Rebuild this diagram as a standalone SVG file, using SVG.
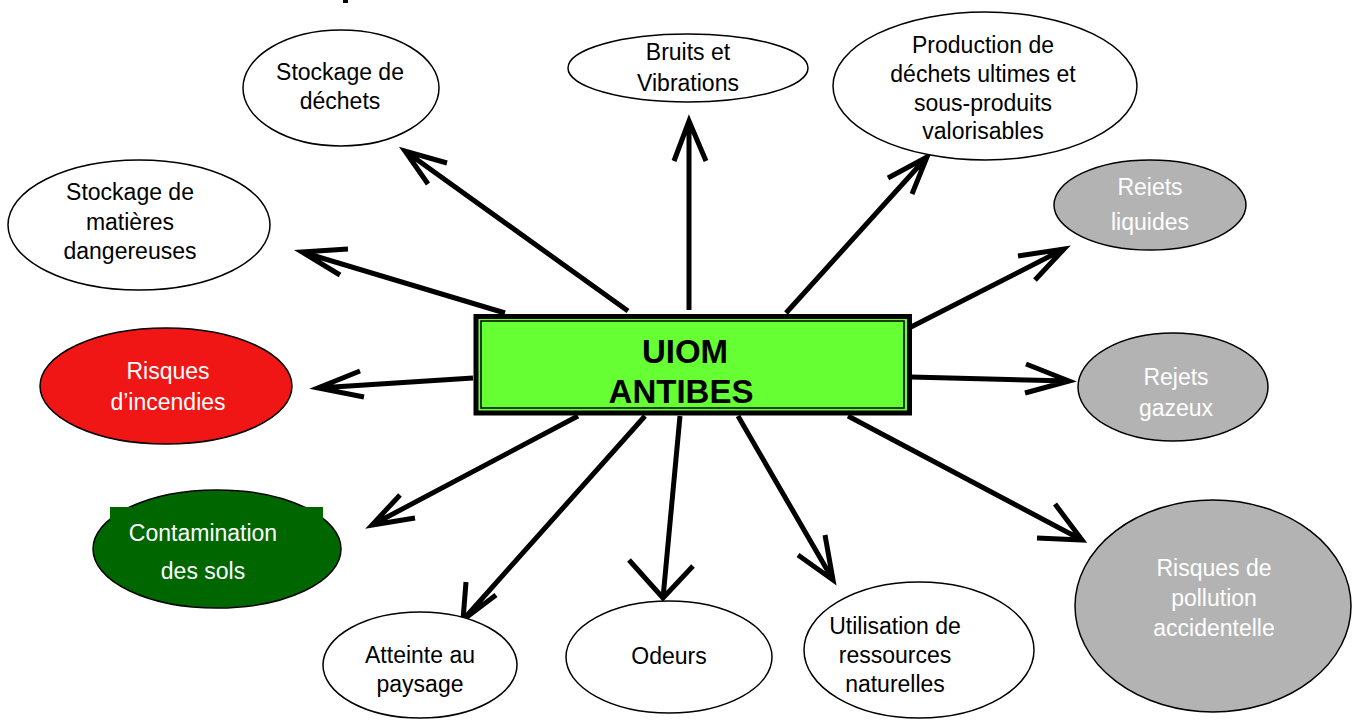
<svg xmlns="http://www.w3.org/2000/svg" width="1356" height="724" viewBox="0 0 1356 724">
<defs>
<style>
.n{stroke:#000;stroke-width:1.5}
.w{fill:#fff}
.g{fill:#b3b3b3}
.t{font-family:"Liberation Sans",Arial,sans-serif;font-size:23px;text-anchor:middle;fill:#000}
.tw{fill:#fff}
.a{fill:none;stroke:#000;stroke-width:5;stroke-linecap:butt;stroke-linejoin:miter}
.b{font-family:"Liberation Sans",Arial,sans-serif;font-size:33px;font-weight:bold;text-anchor:middle;fill:#000}
</style>
<clipPath id="clipRej"><rect x="1050" y="170" width="200" height="26"/></clipPath>
</defs>
<rect width="1356" height="724" fill="#fff"/>
<rect x="343" y="0" width="5" height="3" fill="#000"/>

<g id="connectors">
<path class="a" d="M628,311 L405,151 M447,163 L405,151 L428,184"/>
<path class="a" d="M689,310 L689,121 M674,161 L689,121 L706,161"/>
<path class="a" d="M786,313 L927,157 M888,178 L927,157 L912,194"/>
<path class="a" d="M505,313 L302,252 M348,249 L302,252 L340,275"/>
<path class="a" d="M911,327 L1064,249 M1018,256 L1064,249 L1035,280"/>
<path class="a" d="M473,378 L318,388 M360,371 L318,388 L364,397"/>
<path class="a" d="M911,377 L1069,381 M1026,364 L1069,381 L1025,393"/>
<path class="a" d="M578,416 L372,525 M400,495 L372,525 L415,518"/>
<path class="a" d="M645,416 L463,620 M466,582 L463,620 L496,595"/>
<path class="a" d="M680,416 L663,598 M629,560 L663,598 L693,566"/>
<path class="a" d="M738,416 L833,580 M798,555 L833,580 L825,535"/>
<path class="a" d="M848,416 L1082,540 M1037,538 L1082,540 L1055,504"/>
</g>

<g id="center">
<rect x="476" y="316.5" width="433.5" height="96.5" fill="#66ff33" stroke="#000" stroke-width="5"/>
<rect x="481" y="321" width="423" height="87" fill="none" stroke="#000" stroke-width="1.5"/>
<text class="b" x="685" y="363">UIOM</text>
<text class="b" x="681" y="403">ANTIBES</text>
</g>

<g id="stockage-dechets">
<ellipse class="n w" cx="341" cy="88" rx="98" ry="58"/>
<text class="t" x="340" y="80">Stockage de</text>
<text class="t" x="340" y="109">déchets</text>
</g>

<g id="bruits">
<ellipse class="n w" cx="688" cy="68" rx="120" ry="34"/>
<text class="t" x="688" y="60">Bruits et</text>
<text class="t" x="688" y="91">Vibrations</text>
</g>

<g id="production">
<ellipse class="n w" cx="985" cy="86" rx="152" ry="74"/>
<text class="t" x="983" y="53">Production de</text>
<text class="t" x="983" y="82">déchets ultimes et</text>
<text class="t" x="983" y="111">sous-produits</text>
<text class="t" x="983" y="139">valorisables</text>
</g>

<g id="matieres">
<ellipse class="n w" cx="139" cy="225" rx="131" ry="65"/>
<text class="t" x="130" y="200">Stockage de</text>
<text class="t" x="130" y="230">matières</text>
<text class="t" x="130" y="259">dangereuses</text>
</g>

<g id="rejets-liquides">
<ellipse class="n g" cx="1150" cy="205" rx="96" ry="45"/>
<text class="t tw" x="1150" y="195" clip-path="url(#clipRej)">Rejets</text>
<text class="t tw" x="1150" y="230">liquides</text>
</g>

<g id="incendies">
<ellipse class="n" cx="166" cy="386" rx="126" ry="58" fill="#f01616"/>
<text class="t tw" x="168" y="379">Risques</text>
<text class="t tw" x="168" y="410">d’incendies</text>
</g>

<g id="rejets-gazeux">
<ellipse class="n g" cx="1173" cy="387" rx="95" ry="54"/>
<text class="t tw" x="1176" y="385">Rejets</text>
<text class="t tw" x="1176" y="416">gazeux</text>
</g>

<g id="contamination">
<ellipse class="n" cx="217" cy="549" rx="124" ry="59" fill="#006600"/>
<rect x="110" y="507" width="213" height="20" fill="#006600"/>
<text class="t tw" x="203" y="541">Contamination</text>
<text class="t tw" x="203" y="579">des sols</text>
</g>

<g id="paysage">
<ellipse class="n w" cx="420" cy="665" rx="97" ry="53"/>
<text class="t" x="420" y="663">Atteinte au</text>
<text class="t" x="420" y="692">paysage</text>
</g>

<g id="odeurs">
<ellipse class="n w" cx="669" cy="657" rx="103" ry="56"/>
<text class="t" x="669" y="664">Odeurs</text>
</g>

<g id="ressources">
<ellipse class="n w" cx="919" cy="650" rx="115" ry="68"/>
<text class="t" x="895" y="634">Utilisation de</text>
<text class="t" x="895" y="663">ressources</text>
<text class="t" x="895" y="692">naturelles</text>
</g>

<g id="pollution">
<ellipse class="n g" cx="1213" cy="606" rx="138" ry="106"/>
<text class="t tw" x="1214" y="576">Risques de</text>
<text class="t tw" x="1214" y="606">pollution</text>
<text class="t tw" x="1214" y="636">accidentelle</text>
</g>
</svg>
